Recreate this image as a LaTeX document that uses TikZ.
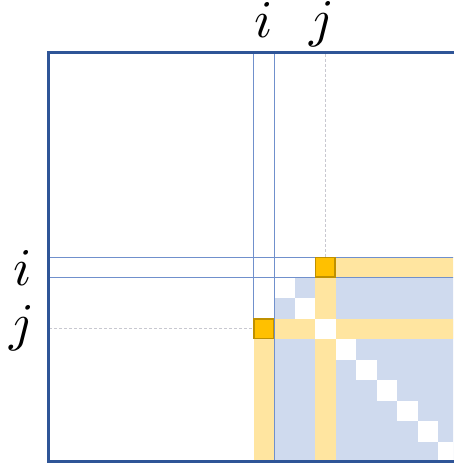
\documentclass[tikz,border=0pt]{standalone}
\usepackage{fontspec}
\newfontfamily\lmmath{latinmodern-math.otf}
\definecolor{frameblue}{HTML}{2F5597}
\definecolor{gridline}{HTML}{7090CC}
\definecolor{lightblue}{HTML}{CFDAEE}
\definecolor{lightgold}{HTML}{FFE5A0}
\definecolor{gold}{HTML}{FFC000}
\definecolor{darkgold}{HTML}{BF9000}
\definecolor{dashgray}{HTML}{C8C8D0}
\tikzset{
  lbl/.style={inner sep=0pt, anchor=base, text height=34pt, text depth=9pt, font=\fontsize{53}{60}\selectfont\lmmath},
  bluecell/.style={fill=lightblue, draw=none},
  goldcell/.style={fill=lightgold, draw=none},
  whitecell/.style={fill=white, draw=none},
  pivot/.style={fill=gold, draw=darkgold, line width=1.5pt},
  thin/.style={draw=gridline, line width=0.9pt},
  guide/.style={draw=dashgray, line width=0.8pt, dash pattern=on 3pt off 2pt},
  frame/.style={draw=frameblue, line width=3pt}
}
\begin{document}
\begin{tikzpicture}[x=1pt, y=-1pt]
\useasboundingbox (0,0) rectangle (453,465);
\def\c{20.5}
\def\xo{253.5}
\def\yo{257}
\begin{scope}
\clip (49.5,54.5) rectangle (453,459.5);
% blue region
\fill[bluecell] (\xo+\c,\yo+\c) rectangle (470,470);
% diagonal white cells
\foreach \k in {1,...,10}{
  \fill[whitecell] (\xo+\k*\c,\yo+\k*\c) rectangle (\xo+\k*\c+\c,\yo+\k*\c+\c);
}
% gold row i and col i
\fill[goldcell] (\xo+4*\c,\yo) rectangle (470,\yo+\c);
\fill[goldcell] (\xo,\yo+4*\c) rectangle (\xo+\c,470);
% gold row j and col j
\fill[goldcell] (\xo+\c,\yo+3*\c) rectangle (470,\yo+4*\c);
\fill[goldcell] (\xo+3*\c,\yo+\c) rectangle (\xo+4*\c,470);
\fill[whitecell] (\xo+3*\c,\yo+3*\c) rectangle (\xo+4*\c,\yo+4*\c);
% guide lines
\coordinate (gtop) at (\xo+3.5*\c,54);
\coordinate (gbot) at (\xo+3.5*\c,\yo);
\coordinate (gleft) at (49,\yo+3.5*\c);
\coordinate (gright) at (\xo,\yo+3.5*\c);
\draw[guide] (gtop) -- (gbot);
\draw[guide] (gleft) -- (gright);
% thin lines
\draw[thin] (\xo,54) -- (\xo,\yo+3*\c);
\draw[thin] (\xo+\c,54) -- (\xo+\c,470);
\draw[thin] (49,\yo) -- (470,\yo);
\draw[thin] (49,\yo+\c) -- (470,\yo+\c);
\end{scope}
% pivots
\node[pivot, minimum size=19.5pt, inner sep=0pt] (pij) at (\xo+3.5*\c,\yo+0.5*\c) {};
\node[pivot, minimum size=19.5pt, inner sep=0pt] (pji) at (\xo+0.5*\c,\yo+3.5*\c) {};
% frame
\draw[frame] (470,53) -- (48,53) -- (48,461) -- (470,461);
% labels
\node[lbl] (ti) at (264,38) {^^^^^^01d456};
\node[lbl] (tj) at (320,37) {^^^^^^01d457};
\node[lbl] (li) at (23,285) {^^^^^^01d456};
\node[lbl] (lj) at (20.5,340) {^^^^^^01d457};
\end{tikzpicture}
\end{document}
